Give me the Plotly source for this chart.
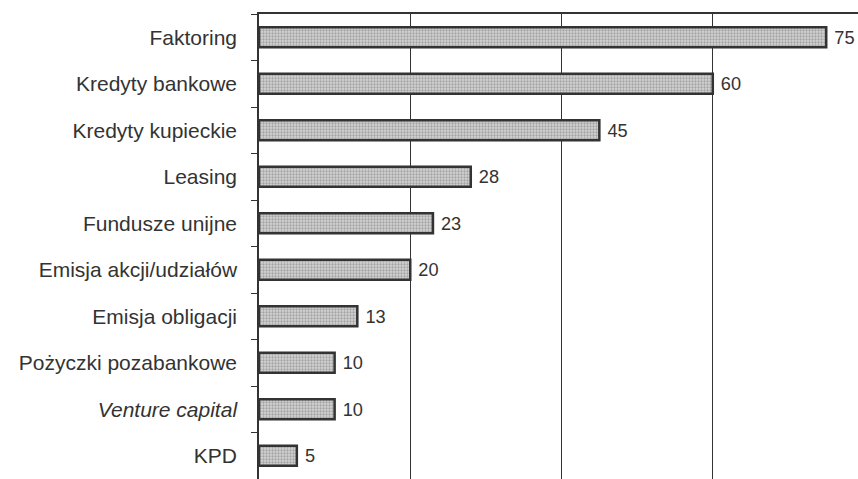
import plotly.graph_objects as go

categories = ["Faktoring", "Kredyty bankowe", "Kredyty kupieckie", "Leasing", "Fundusze unijne",
              "Emisja akcji/udziałów", "Emisja obligacji", "Pożyczki pozabankowe",
              "<i>Venture capital</i>", "KPD"]
values = [75, 60, 45, 28, 23, 20, 13, 10, 10, 5]

fig = go.Figure(go.Bar(
    y=categories, x=values, orientation="h", width=0.43,
    marker=dict(color="#c8c8c8", line=dict(color="#333333", width=2.5),
                pattern=dict(shape=".", fgcolor="#707070", bgcolor="#d4d4d4", size=3, solidity=0.45)),
    text=[f" {v}" for v in values], textposition="outside", cliponaxis=False,
    textfont=dict(family="Liberation Sans, Arial", size=20, color="#333333"),
))
fig.update_layout(
    width=858, height=479, margin=dict(l=259, r=0, t=14, b=0),
    paper_bgcolor="white", plot_bgcolor="white", showlegend=False,
    font=dict(family="Liberation Sans, Arial", size=21, color="#333333"),
    xaxis=dict(range=[0, 79.2], dtick=20, showgrid=True, gridcolor="#333333", gridwidth=1,
               showticklabels=False, showline=True, linecolor="#333333", linewidth=1.5,
               side="top", zeroline=False, ticks=""),
    yaxis=dict(autorange="reversed", showline=True, linecolor="#333333", linewidth=1.5,
               ticks="outside", tickson="boundaries", ticklen=6, tickcolor="#333333",
               ticklabelstandoff=16, showgrid=False),
)
fig.write_html("out.html")
